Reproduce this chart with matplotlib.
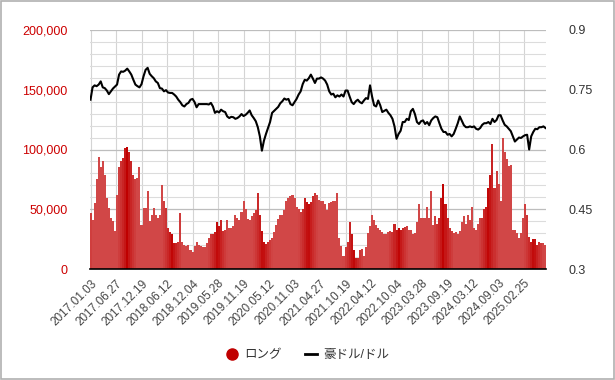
import matplotlib
matplotlib.use("Agg")
import matplotlib.pyplot as plt
from matplotlib.lines import Line2D
import numpy as np
import pandas as pd

plt.rcParams['font.family'] = ['Liberation Sans', 'Noto Sans CJK JP', 'DejaVu Sans']

# weekly category axis, values sampled every other week
start = pd.Timestamp('2017-01-03')
n_weeks = 447
sample_dates = pd.date_range(start, periods=224, freq='14D')

# ロング (contracts, thousands)
long_k = [
    47, 41, 55, 75, 94, 85, 90, 79, 59, 51, 43, 40, 32, 62, 85, 90, 93, 101, 102, 98,
    90, 79, 75, 76, 85, 37, 51, 51, 65, 40, 45, 51, 45, 43, 45, 70, 57, 51, 34, 31,
    29, 22, 22, 23, 47, 23, 20, 19, 20, 16, 14, 19, 23, 20, 19, 18,
    18, 22, 26, 29, 29, 31, 39, 36, 41, 32, 33, 41, 34, 34, 36, 45, 43, 41, 48, 57,
    50, 42, 41, 44, 47, 49, 64, 45, 32, 23, 21, 23, 24, 26, 31, 37, 42, 45, 45, 49,
    57, 59, 61, 62, 59, 52, 50, 48, 50, 59, 56, 54, 56, 61, 64, 62,
    58, 57, 57, 54, 49, 55, 56, 57, 57, 64, 26, 19, 11, 18, 23, 39, 29, 16, 9, 9,
    16, 17, 11, 18, 30, 36, 45, 41, 37, 34, 33, 31, 29, 29, 31, 32, 31, 38, 33, 34,
    33, 34, 35, 36, 33, 33, 29, 30, 39, 54, 43, 43, 43, 52, 43, 65,
    37, 44, 38, 43, 59, 71, 54, 43, 34, 32, 30, 31, 29, 32, 39, 44, 38, 45, 41, 52,
    34, 33, 38, 43, 43, 50, 52, 68, 79, 105, 68, 82, 71, 57, 110, 98, 92, 86, 87, 33,
    33, 30, 26, 30, 43, 54, 45, 27, 23, 25, 25, 20, 23, 22, 22, 20,
]

# 豪ドル/ドル
audusd = [
    0.725, 0.756, 0.761, 0.759, 0.763, 0.771, 0.756, 0.754, 0.748, 0.739, 0.746, 0.753,
    0.758, 0.763, 0.788, 0.796, 0.795, 0.798, 0.803, 0.796, 0.788, 0.775, 0.763, 0.759,
    0.756, 0.764, 0.784, 0.800, 0.805, 0.790, 0.784, 0.779, 0.771, 0.767, 0.754, 0.753,
    0.746, 0.749, 0.743, 0.742, 0.742, 0.738, 0.733, 0.725, 0.719, 0.711, 0.708, 0.714,
    0.717, 0.725, 0.727, 0.719, 0.706, 0.714, 0.714, 0.714,
    0.714, 0.714, 0.713, 0.717, 0.708, 0.692, 0.696, 0.693, 0.700, 0.696, 0.694, 0.683,
    0.679, 0.682, 0.681, 0.677, 0.679, 0.683, 0.689, 0.684, 0.687, 0.692, 0.698, 0.686,
    0.679, 0.671, 0.656, 0.633, 0.597, 0.622, 0.639, 0.654, 0.669, 0.692, 0.697, 0.702,
    0.707, 0.716, 0.721, 0.728, 0.725, 0.727, 0.714, 0.711, 0.719, 0.727, 0.738, 0.746,
    0.764, 0.775, 0.773, 0.779, 0.788, 0.778, 0.767, 0.778,
    0.778, 0.781, 0.778, 0.773, 0.763, 0.746, 0.738, 0.740, 0.731, 0.736, 0.733, 0.738,
    0.733, 0.748, 0.748, 0.733, 0.719, 0.714, 0.721, 0.725, 0.719, 0.716, 0.723, 0.729,
    0.727, 0.761, 0.733, 0.711, 0.708, 0.723, 0.711, 0.694, 0.697, 0.700, 0.692, 0.686,
    0.677, 0.658, 0.627, 0.639, 0.647, 0.669, 0.669, 0.677, 0.674, 0.696, 0.702, 0.689,
    0.669, 0.664, 0.671, 0.673, 0.664, 0.669, 0.661, 0.673,
    0.679, 0.683, 0.681, 0.666, 0.652, 0.644, 0.644, 0.637, 0.639, 0.633, 0.639, 0.652,
    0.666, 0.683, 0.672, 0.661, 0.656, 0.656, 0.658, 0.656, 0.658, 0.652, 0.650, 0.654,
    0.662, 0.666, 0.666, 0.669, 0.664, 0.677, 0.669, 0.674, 0.686, 0.686, 0.673, 0.662,
    0.658, 0.652, 0.646, 0.633, 0.620, 0.625, 0.630, 0.629, 0.633, 0.636, 0.637, 0.600,
    0.633, 0.644, 0.652, 0.651, 0.656, 0.656, 0.658, 0.654,
]

x = ((sample_dates - start).days / 7).to_numpy()
long_vals = np.array(long_k) * 1000

# banded red shading of the bars
phase = ((x - 36) / 44.3) % 1.0
d = np.minimum(phase, 1 - phase) * 2
s = np.clip(d * 2.2, 0, 1) ** 0.7
dark = np.array([0.75, 0.0, 0.0])
light = np.array([0.82, 0.28, 0.28])
colors = [tuple(dark * (1 - v) + light * v) for v in s]

fig = plt.figure(figsize=(6.15, 3.8), dpi=100)
ax = fig.add_axes([90 / 615, 1 - 269 / 380, 456 / 615, 239 / 380])

ax.bar(x, long_vals, width=2.0, color=colors, linewidth=0, zorder=2)
ax.set_xlim(-0.5, n_weeks - 0.5)
ax.set_ylim(0, 200000)
ax.set_yticks(np.arange(0, 200001, 50000))
ax.set_yticks(np.arange(0, 200001, 10000), minor=True)
ax.set_yticklabels([f'{v:,}' for v in range(0, 200001, 50000)], color='#cc0000', fontsize=9)
ax.grid(axis='y', which='major', color='#bdbdbd', linewidth=0.9, zorder=0)
ax.grid(axis='y', which='minor', color='#dcdcdc', linewidth=0.8, zorder=0)

tick_idx = np.arange(0, n_weeks, 25)
tick_lbls = [(start + pd.Timedelta(weeks=int(i))).strftime('%Y.%m.%d') for i in tick_idx]
ax.set_xticks(tick_idx)
ax.set_xticklabels(tick_lbls, rotation=45, ha='right', rotation_mode='anchor',
                   fontsize=8.5, color='#444444')
ax.grid(axis='x', which='major', color='#d4d4d4', linewidth=0.8, zorder=0)
ax.set_axisbelow(True)
ax.tick_params(axis='both', which='both', length=0)
ax.tick_params(axis='y', pad=16)
ax.tick_params(axis='x', pad=6)
for sp in ['top', 'left', 'right']:
    ax.spines[sp].set_visible(False)
ax.spines['bottom'].set_color('black')
ax.spines['bottom'].set_linewidth(1.2)
ax.spines['bottom'].set_zorder(5)

ax2 = ax.twinx()
ax2.plot(x, audusd, color='black', linewidth=1.5, zorder=3)
ax2.set_ylim(0.3, 0.9)
ax2.set_yticks([0.3, 0.45, 0.6, 0.75, 0.9])
ax2.set_yticklabels(['0.3', '0.45', '0.6', '0.75', '0.9'], color='#333333', fontsize=9)
ax2.tick_params(axis='y', length=0, pad=16)
for sp in ax2.spines.values():
    sp.set_visible(False)

handles = [
    Line2D([], [], marker='o', linestyle='none', markersize=8,
           markerfacecolor='#c00000', markeredgecolor='#c00000'),
    Line2D([], [], color='black', linewidth=2),
]
fig.legend(handles, ['ロング', '豪ドル/ドル'], loc='center', bbox_to_anchor=(0.5, 1 - 355 / 380),
           ncol=2, frameon=False, fontsize=9, handlelength=1.0, columnspacing=1.8,
           handletextpad=0.5, labelcolor='#333333')

fig.patches.append(plt.Rectangle((0.001, 0.002), 0.997, 0.996, transform=fig.transFigure,
                                 fill=False, edgecolor='#b0b0b0', linewidth=1.2))

fig.savefig('out.png', dpi=100)
